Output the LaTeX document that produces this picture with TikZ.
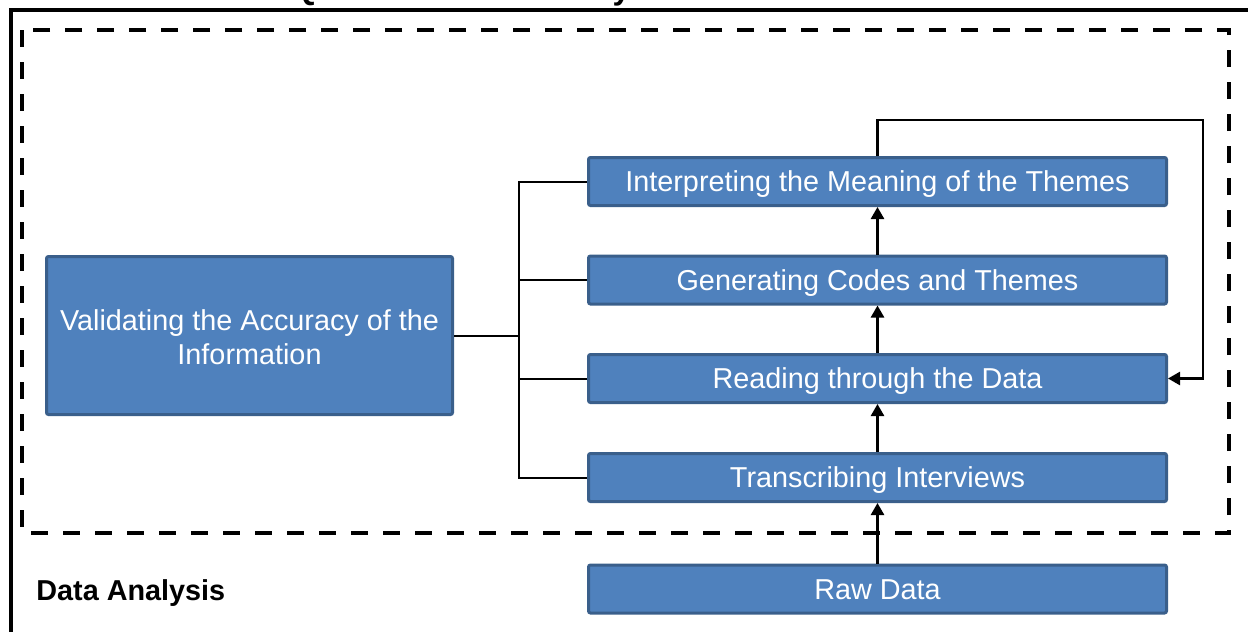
\documentclass[tikz,border=0pt]{standalone}
\usepackage{fontspec}
\setmainfont{Liberation Sans}
\usepackage{tikz}
\usetikzlibrary{arrows.meta,positioning,calc}
\definecolor{boxfill}{HTML}{4F81BD}
\definecolor{boxline}{HTML}{3A5F8B}
\tikzstyle{stage}=[rectangle,draw=boxline,fill=boxfill,line width=1.5pt,rounded corners=1pt,text=white,font=\fontsize{14.4}{17}\selectfont,inner sep=0pt,minimum width=289pt,minimum height=24pt,text height=12pt,text depth=2pt]
\tikzstyle{bigstage}=[stage,minimum width=203pt,minimum height=79pt,align=center,text height=,text depth=]
\tikzstyle{edge}=[-{Triangle[length=6pt,width=6.5pt]},line width=1.25pt]
\tikzstyle{link}=[line width=1pt]
\tikzstyle{frame}=[line width=1.75pt]
\tikzstyle{region}=[line width=2pt,dash pattern=on 8.5pt off 7.5pt]
\tikzstyle{label}=[font=\bfseries\fontsize{14.4}{17}\selectfont,inner sep=0pt]

\begin{document}
\begin{tikzpicture}[x=0.5pt,y=-0.5pt]
  \useasboundingbox (0,0) rectangle (1248,632);
  % frames
  \draw[frame] (11,10) rectangle (1270,660);
  \draw[region] (22,30) rectangle (1229,533);
  \node[label,font=\bfseries\fontsize{16}{19}\selectfont,anchor=base] (title) at (635,-1) {Qualitative Data Analysis Process Schematic};
  \node[label,anchor=west] (area) at (36,593) {Data Analysis};
  % stages
  \node[stage] (interp) at (877.5,181.5) {Interpreting the Meaning of the Themes};
  \node[stage] (gen) at (877.5,280) {Generating Codes and Themes};
  \node[stage] (read) at (877.5,378.5) {Reading through the Data};
  \node[stage] (trans) at (877.5,477.5) {Transcribing Interviews};
  \node[stage] (raw) at (877.5,589) {Raw Data};
  \node[bigstage] (valid) at (249.5,335.5) {\rule{0pt}{12.5pt}Validating the Accuracy of the\\Information};
  % flow upwards
  \foreach \a/\b in {raw/trans,trans/read,read/gen,gen/interp} {
    \draw[edge] (\a) -- (\b);
  }
  % loop back
  \coordinate (top) at (1203,120);
  \draw[edge] (interp.north) |- (top) |- (read.east);
  % bracket
  \coordinate (hub) at (519,335.5);
  \draw[link] (valid.east) -- (hub);
  \foreach \n in {interp,gen,read,trans} {
    \draw[link] (hub) |- (\n.west);
  }
\end{tikzpicture}
\end{document}
